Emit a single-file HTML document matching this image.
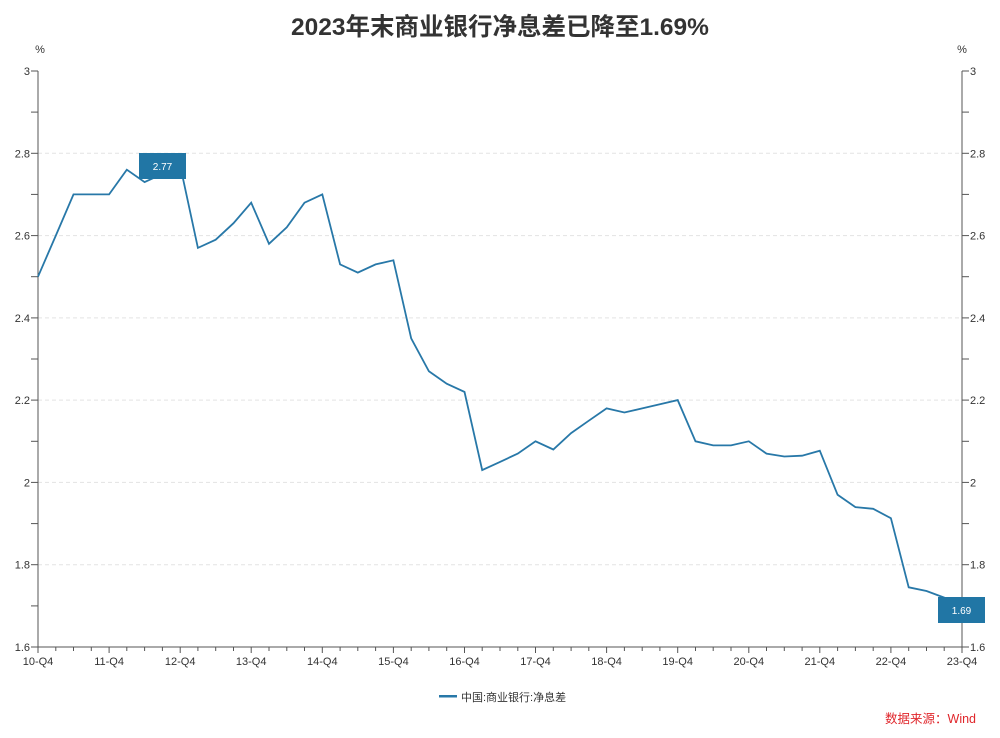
<!DOCTYPE html>
<html><head><meta charset="utf-8"><style>
body{margin:0;background:#fff;}
svg{display:block;font-family:"Liberation Sans","Noto Sans CJK SC",sans-serif;}
</style></head><body>
<svg id="s" width="1000" height="738" xmlns="http://www.w3.org/2000/svg">
<text x="500" y="35" text-anchor="middle" font-size="24.5" font-weight="bold" fill="#333">2023年末商业银行净息差已降至1.69%</text>
<text x="40" y="53" text-anchor="middle" font-size="11" fill="#333">%</text>
<text x="962" y="53" text-anchor="middle" font-size="11" fill="#333">%</text>
<g id="g"></g>
<rect x="439" y="695" width="18" height="2.5" fill="#2878a8"/>
<text x="461" y="701" font-size="11" fill="#333">中国:商业银行:净息差</text>
<text x="976" y="723" text-anchor="end" font-size="12.5" fill="#e0262b">数据来源：Wind</text>
</svg>
<script>
var g=document.getElementById('g'),h='';
function Y(v){return 71+(3-v)/1.4*576;}
function X(i){return 38+i*924/52;}
for(var k=0;k<=14;k++){var v=1.6+k*0.1,y=Y(v).toFixed(1);
 if(k%2==0&&k>0&&k<14){h+='<line x1="38" x2="962" y1="'+y+'" y2="'+y+'" stroke="#e3e3e3" stroke-dasharray="4,3"/>';}
 h+='<line x1="31" x2="38" y1="'+y+'" y2="'+y+'" stroke="#555"/><line x1="962" x2="969" y1="'+y+'" y2="'+y+'" stroke="#555"/>';
 if(k%2==0){var t=(Math.round(v*10)/10).toString();h+='<text x="30" y="'+(+y+4)+'" text-anchor="end" font-size="11" fill="#333">'+t+'</text><text x="970" y="'+(+y+4)+'" font-size="11" fill="#333">'+t+'</text>';}
}
h+='<line x1="38" x2="38" y1="71" y2="647" stroke="#555"/><line x1="962" x2="962" y1="71" y2="647" stroke="#555"/><line x1="38" x2="962" y1="647" y2="647" stroke="#555"/>';
for(var i=0;i<=52;i++){var x=X(i).toFixed(1),L=(i%4==0)?6:4;h+='<line x1="'+x+'" x2="'+x+'" y1="647" y2="'+(647+L)+'" stroke="#555"/>';
 if(i%4==0){h+='<text x="'+x+'" y="665" text-anchor="middle" font-size="11" fill="#333">'+(10+i/4)+'-Q4</text>';}}
var d=[2.50,2.60,2.70,2.70,2.70,2.76,2.73,2.75,2.77,2.57,2.59,2.63,2.68,2.58,2.62,2.68,2.70,2.53,2.51,2.53,2.54,2.35,2.27,2.24,2.22,2.03,2.05,2.07,2.10,2.08,2.12,2.15,2.18,2.17,2.18,2.19,2.20,2.10,2.09,2.09,2.10,2.07,2.063,2.065,2.077,1.97,1.94,1.936,1.913,1.745,1.736,1.72,1.69];
var p='';for(var i=0;i<d.length;i++)p+=(i?'L':'M')+X(i).toFixed(1)+','+Y(d[i]).toFixed(1);
h+='<path d="'+p+'" fill="none" stroke="#2878a8" stroke-width="1.8"/>';
h+='<rect x="139" y="153" width="47" height="26" fill="#2176a5"/><text x="162.5" y="170" text-anchor="middle" font-size="10" fill="#fff">2.77</text>';
h+='<rect x="938" y="597" width="47" height="26" fill="#2176a5"/><text x="961.5" y="614" text-anchor="middle" font-size="10" fill="#fff">1.69</text>';
g.innerHTML=h;
</script>
</body></html>
